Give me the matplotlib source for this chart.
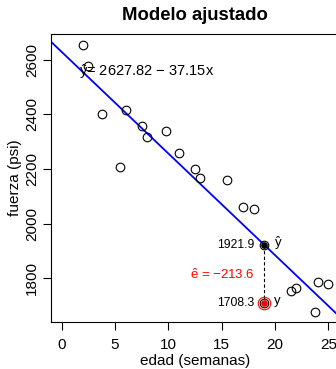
import matplotlib
matplotlib.use("Agg")
import matplotlib.pyplot as plt
import numpy as np

plt.rcParams['font.family'] = ['Liberation Sans', 'DejaVu Sans']
plt.rcParams['mathtext.fontset'] = 'custom'
plt.rcParams['mathtext.rm'] = 'Liberation Sans'
plt.rcParams['mathtext.it'] = 'Liberation Sans'
plt.rcParams['mathtext.bf'] = 'Liberation Sans:bold'

edad = [15.50, 23.75, 8.00, 17.00, 5.50, 19.00, 24.00, 2.50, 7.50, 11.00,
        13.00, 3.75, 25.00, 9.75, 22.00, 18.00, 6.00, 12.50, 2.00, 21.50]
fuerza = [2158.70, 1678.15, 2316.00, 2061.30, 2207.50, 1708.30, 1784.70, 2575.00, 2357.90, 2256.70,
          2165.20, 2399.55, 1779.80, 2336.75, 1765.30, 2053.50, 2414.40, 2200.50, 2654.20, 1753.70]
b0 = 2627.82
b1 = -37.15
x_sel = 19.0
y_obs = 1708.3
y_fit = 1921.9
resid = -213.6
xticks = [0, 5, 10, 15, 20, 25]
yticks = [1800, 2000, 2200, 2400, 2600]

W, H = 336, 369
fig = plt.figure(figsize=(W/100, H/100), dpi=100)
L, R, T, B = 51, 339, 34, 322.3
ax = fig.add_axes([L/W, 1-B/H, (R-L)/W, (B-T)/H])

xlim = (-1, 26)
yr = max(fuerza) - min(fuerza)
ylim = (min(fuerza) - 0.04*yr, max(fuerza) + 0.04*yr)
ax.set_xlim(*xlim)
ax.set_ylim(*ylim)

ax.plot(edad, fuerza, 'o', mfc='none', mec='black', ms=6.2, mew=0.8, zorder=3)
xx = np.array(xlim)
ax.plot(xx, b0 + b1*xx, color='#0000ff', lw=1.3, zorder=2)

ax.plot([x_sel, x_sel], [y_fit, y_obs], color='black', ls=(0, (3, 2)), lw=0.8, zorder=2)
# fitted point
ax.plot([x_sel], [y_fit], 'o', mfc='none', mec='black', ms=6.2, mew=0.8, zorder=4)
ax.plot([x_sel], [y_fit], 'o', color='black', ms=3.8, zorder=4)
# observed point
ax.plot([x_sel], [y_obs], 'o', mfc='none', mec='red', ms=9, mew=0.8, zorder=4)
ax.plot([x_sel], [y_obs], 'o', color='red', ms=3.8, zorder=5)

ax.text(8.0, 2556, r'$\hat{y}$= ' + f'{b0:.2f} \u2212 {abs(b1):.2f}x',
        ha='center', va='center', fontsize=10.5)
ax.text(x_sel - 0.9, y_fit, f'{y_fit:.1f}', ha='right', va='center', fontsize=8.8)
ax.text(x_sel + 0.9, y_fit + 8, r'$\hat{y}$', ha='left', va='center', fontsize=9.5)
ax.text(x_sel - 0.9, y_obs, f'{y_obs:.1f}', ha='right', va='center', fontsize=8.8)
ax.text(x_sel + 0.9, y_obs + 8, 'y', ha='left', va='center', fontsize=9.5)
ax.text(x_sel - 0.9, 1815, r'$\hat{e}$ = ' + f'\u2212{abs(resid):.1f}',
        ha='right', va='center', fontsize=9.5, color='red')

ax.set_xticks(xticks)
ax.set_yticks(yticks)
ax.set_yticklabels([str(v) for v in yticks], rotation=90, va='center')
ax.tick_params(direction='out', length=6, width=0.8, labelsize=11)
ax.tick_params(axis='x', pad=5.5)
ax.tick_params(axis='y', pad=2.7)
for s in ax.spines.values():
    s.set_linewidth(0.8)

ax.set_xlabel('edad (semanas)', fontsize=11, labelpad=1.3)
ax.set_ylabel('fuerza (psi)', fontsize=11, labelpad=2)
fig.text(195/W, 1-15/H, 'Modelo ajustado', ha='center', va='center', fontsize=13.3, fontweight='bold')

fig.savefig('out.png', dpi=100)
